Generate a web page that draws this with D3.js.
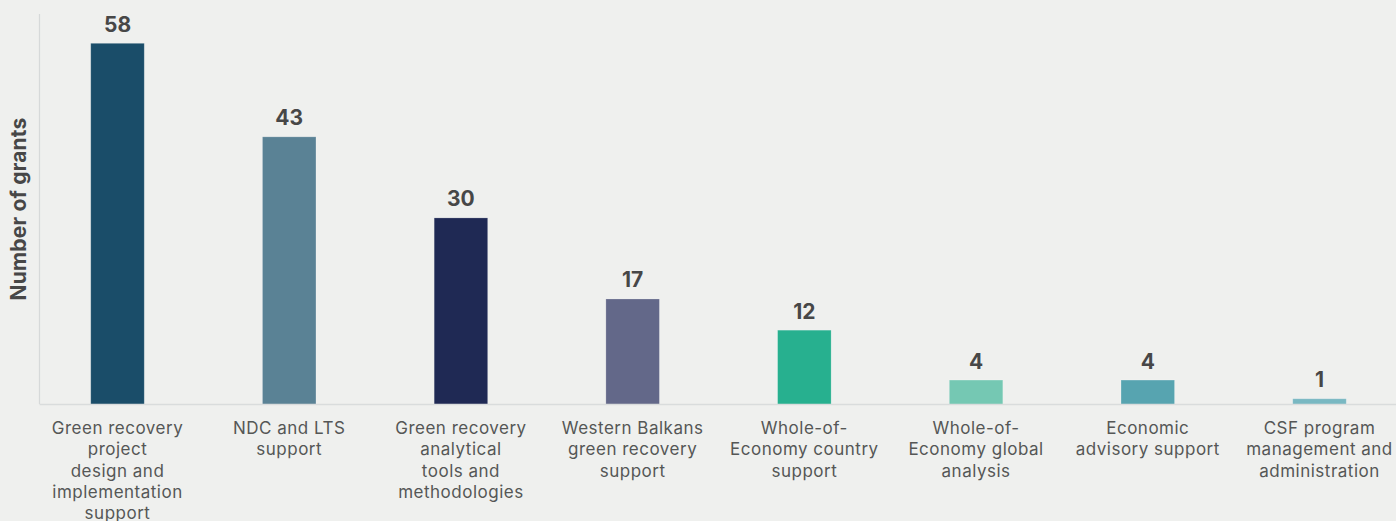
<!DOCTYPE html>
<html>
<head>
<meta charset="utf-8">
<script src="https://cdn.jsdelivr.net/npm/d3@7"></script>
<style>
  html, body { margin: 0; padding: 0; background: #eff0ee; }
  svg { display: block; }
  .cat { font-family: Inter, "Liberation Sans", sans-serif; font-size: 17px; letter-spacing: 0.5px; fill: #555756; }
  .val { font-family: Inter, "Liberation Sans", sans-serif; font-size: 21px; font-weight: 700; fill: #474747; }
  .ytitle { font-family: Inter, "Liberation Sans", sans-serif; font-size: 21px; font-weight: 700; letter-spacing: 0.2px; fill: #474747; }
</style>
</head>
<body>
<svg id="chart" width="1396" height="521"></svg>
<script>
// Grant counts by work area
const categories = [
  "Green recovery\nproject\ndesign and\nimplementation\nsupport",
  "NDC and LTS\nsupport",
  "Green recovery\nanalytical\ntools and\nmethodologies",
  "Western Balkans\ngreen recovery\nsupport",
  "Whole-of-\nEconomy country\nsupport",
  "Whole-of-\nEconomy global\nanalysis",
  "Economic\nadvisory support",
  "CSF program\nmanagement and\nadministration"
];
const grants = [58, 43, 30, 17, 12, 4, 4, 1];
const barColors = ["#1a4d69", "#5a8295", "#1f2954", "#636889", "#27b08f", "#75c8b3", "#57a4b0", "#79b8c2"];
const yTitle = "Number of grants";

const svg = d3.select("#chart");
const W = 1396, H = 521;

const x = d3.scalePoint()
  .domain(categories)
  .range([117.5, 1319.5]);
const barW = 53.5;

const y = d3.scaleLinear()
  .domain([0, 58])
  .range([405, 43.3]);

// left axis rule
svg.append("line")
  .attr("x1", 39.5).attr("x2", 39.5)
  .attr("y1", 14).attr("y2", 404)
  .attr("stroke", "#d6d9d9").attr("stroke-width", 1.2);

// bars
svg.selectAll("rect.bar")
  .data(grants)
  .join("rect")
  .attr("class", "bar")
  .attr("x", (d, i) => x(categories[i]) - barW / 2)
  .attr("y", d => y(d))
  .attr("width", barW)
  .attr("height", d => y(0) - y(d))
  .attr("fill", (d, i) => barColors[i])
  .attr("stroke", "#ffffff")
  .attr("stroke-opacity", 0.25)
  .attr("stroke-width", 0.8);

// baseline
svg.append("line")
  .attr("x1", 39.5).attr("x2", W)
  .attr("y1", 404.5).attr("y2", 404.5)
  .attr("stroke", "#d9dcdc").attr("stroke-width", 1.6);

// value labels
svg.selectAll("text.val")
  .data(grants)
  .join("text")
  .attr("class", "val")
  .attr("text-anchor", "middle")
  .attr("x", (d, i) => x(categories[i]))
  .attr("y", d => y(d) - 11.5)
  .text(d => d);

// category labels
categories.forEach(c => {
  const t = svg.append("text")
    .attr("class", "cat")
    .attr("text-anchor", "middle")
    .attr("x", x(c))
    .attr("y", 434);
  c.split("\n").forEach((line, j) => {
    t.append("tspan")
      .attr("x", x(c))
      .attr("dy", j === 0 ? 0 : 21.3)
      .text(line);
  });
});

// y-axis title
svg.append("text")
  .attr("class", "ytitle")
  .attr("text-anchor", "middle")
  .attr("transform", "translate(26,209) rotate(-90)")
  .text(yTitle);
</script>
</body>
</html>
